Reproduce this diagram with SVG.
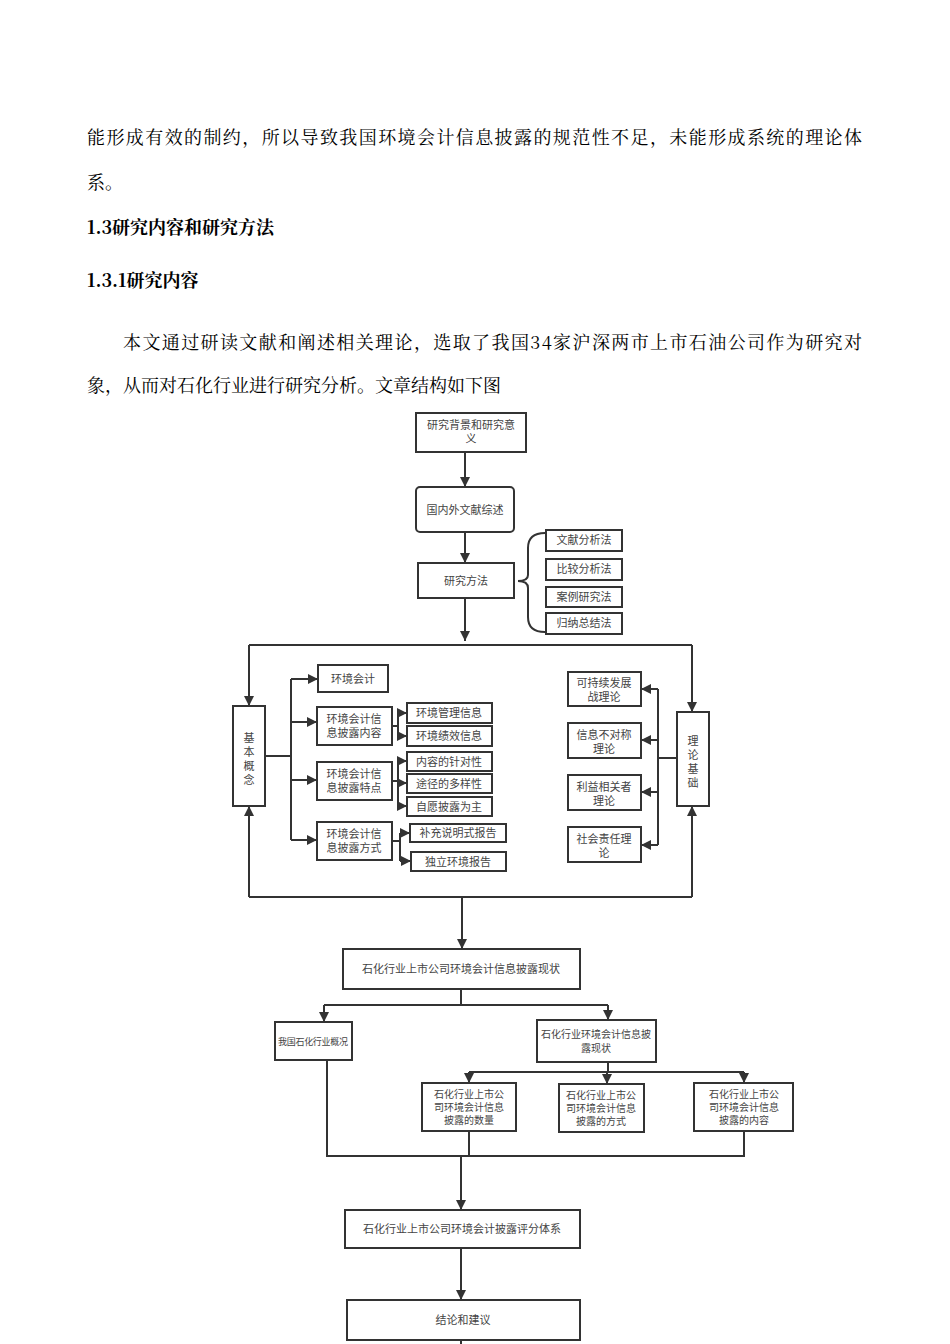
<svg xmlns="http://www.w3.org/2000/svg" width="950" height="1344" viewBox="0 0 950 1344">
<defs>
<marker id="a" viewBox="0 0 10 10" refX="10" refY="5" markerWidth="10" markerHeight="10" orient="auto" markerUnits="userSpaceOnUse"><path d="M0,0 L10,5 L0,10 z" fill="#333"/></marker>
</defs>
<style>
.p{font-family:"Noto Serif CJK SC","Noto Sans CJK SC","Liberation Serif",serif;font-size:18px;fill:#000}
.h{font-weight:bold}
.b{fill:#fff;stroke:#333;stroke-width:2}
.t{font-family:"Noto Sans CJK SC","Liberation Sans",sans-serif;font-size:11px;fill:#444;text-anchor:middle}
.s{font-size:10px}
.c{fill:none;stroke:#333;stroke-width:2}
.ca{fill:none;stroke:#333;stroke-width:2;marker-end:url(#a)}
</style>
<rect width="950" height="1344" fill="#fff"/>
<text class="p" x="87" y="144" textLength="775">能形成有效的制约，所以导致我国环境会计信息披露的规范性不足，未能形成系统的理论体</text>
<text class="p" x="87" y="189">系。</text>
<text class="p h" x="87" y="234">1.3研究内容和研究方法</text>
<text class="p h" x="87" y="287">1.3.1研究内容</text>
<text class="p" x="123" y="349" textLength="739">本文通过研读文献和阐述相关理论，选取了我国34家沪深两市上市石油公司作为研究对</text>
<text class="p" x="87" y="392">象，从而对石化行业进行研究分析。文章结构如下图</text>

<g id="connectors">
<path class="ca" d="M465,452 V487"/>
<path class="ca" d="M465,532 V563"/>
<path class="c" d="M545,533 Q528,533 528,548 V575 Q528,581 518,581 Q528,581 528,588 V617 Q528,632 545,632"/>
<path class="ca" d="M465,598 V641"/>
<path class="c" d="M249,645 H692"/>
<path class="ca" d="M249,645 V706"/>
<path class="ca" d="M692,645 V712"/>
<path class="c" d="M249,897 H692"/>
<path class="ca" d="M249,897 V806"/>
<path class="ca" d="M692,897 V806"/>
<path class="ca" d="M462,897 V949"/>
<path class="c" d="M265,756 H291 M291,679 V840"/>
<path class="ca" d="M291,679 H318"/>
<path class="ca" d="M291,722 H317"/>
<path class="ca" d="M291,780 H317"/>
<path class="ca" d="M291,840 H317"/>
<path class="c" d="M392,726 H398 M398,713 V736"/>
<path class="ca" d="M398,713 H407"/>
<path class="ca" d="M398,736 H407"/>
<path class="c" d="M392,781 H398 M398,761 V806"/>
<path class="ca" d="M398,761 H407"/>
<path class="ca" d="M398,783 H407"/>
<path class="ca" d="M398,806 H407"/>
<path class="c" d="M392,841 H400 M400,833 V861"/>
<path class="ca" d="M400,833 H410"/>
<path class="ca" d="M400,861 H411"/>
<path class="c" d="M677,758 H658 M658,689 V845"/>
<path class="ca" d="M658,689 H641"/>
<path class="ca" d="M658,740 H641"/>
<path class="ca" d="M658,792 H641"/>
<path class="ca" d="M658,845 H641"/>
<path class="c" d="M461,989 V1005 M324,1005 H608"/>
<path class="ca" d="M324,1005 V1022"/>
<path class="ca" d="M608,1005 V1020"/>
<path class="c" d="M608,1062 V1072 M469,1072 H744"/>
<path class="ca" d="M469,1072 V1083"/>
<path class="ca" d="M607,1072 V1084"/>
<path class="ca" d="M744,1072 V1083"/>
<path class="c" d="M327,1060 V1156 H744 V1131 M469,1131 V1156"/>
<path class="ca" d="M461,1156 V1210"/>
<path class="ca" d="M461,1248 V1300"/>
<path class="c" d="M461,1340 V1344"/>
</g>

<g id="n1"><rect class="b" x="416" y="413" width="110" height="39"/><text class="t" x="471" y="429">研究背景和研究意</text><text class="t" x="471" y="443">义</text></g>
<g id="n2"><rect class="b" x="416" y="487" width="98" height="45" rx="4"/><text class="t" x="465" y="514">国内外文献综述</text></g>
<g id="n3"><rect class="b" x="418" y="563" width="96" height="35"/><text class="t" x="466" y="585">研究方法</text></g>
<g id="m1"><rect class="b" x="546" y="530" width="76" height="21"/><text class="t" x="584" y="544">文献分析法</text></g>
<g id="m2"><rect class="b" x="546" y="559" width="76" height="21"/><text class="t" x="584" y="573">比较分析法</text></g>
<g id="m3"><rect class="b" x="546" y="587" width="76" height="20"/><text class="t" x="584" y="601">案例研究法</text></g>
<g id="m4"><rect class="b" x="546" y="613" width="76" height="21"/><text class="t" x="584" y="627">归纳总结法</text></g>

<g id="jbgn"><rect class="b" x="233" y="706" width="32" height="100"/><text class="t" x="249" y="742">基</text><text class="t" x="249" y="756">本</text><text class="t" x="249" y="770">概</text><text class="t" x="249" y="784">念</text></g>
<g id="lljc"><rect class="b" x="677" y="712" width="32" height="94"/><text class="t" x="693" y="745">理</text><text class="t" x="693" y="759">论</text><text class="t" x="693" y="773">基</text><text class="t" x="693" y="787">础</text></g>

<g id="k1"><rect class="b" x="318" y="665" width="70" height="27"/><text class="t" x="353" y="683">环境会计</text></g>
<g id="k2"><rect class="b" x="317" y="707" width="75" height="38"/><text class="t" x="354" y="723">环境会计信</text><text class="t" x="354" y="737">息披露内容</text></g>
<g id="k3"><rect class="b" x="317" y="762" width="75" height="38"/><text class="t" x="354" y="778">环境会计信</text><text class="t" x="354" y="792">息披露特点</text></g>
<g id="k4"><rect class="b" x="317" y="822" width="75" height="38"/><text class="t" x="354" y="838">环境会计信</text><text class="t" x="354" y="852">息披露方式</text></g>
<g id="s1"><rect class="b" x="407" y="703" width="85" height="20"/><text class="t" x="449" y="717">环境管理信息</text></g>
<g id="s2"><rect class="b" x="407" y="726" width="85" height="20"/><text class="t" x="449" y="740">环境绩效信息</text></g>
<g id="s3"><rect class="b" x="407" y="752" width="85" height="19"/><text class="t" x="449" y="766">内容的针对性</text></g>
<g id="s4"><rect class="b" x="407" y="774" width="85" height="19"/><text class="t" x="449" y="788">途径的多样性</text></g>
<g id="s5"><rect class="b" x="407" y="797" width="85" height="19"/><text class="t" x="449" y="811">自愿披露为主</text></g>
<g id="s6"><rect class="b" x="410" y="824" width="96" height="18"/><text class="t" x="458" y="837">补充说明式报告</text></g>
<g id="s7"><rect class="b" x="411" y="852" width="95" height="19"/><text class="t" x="458" y="866">独立环境报告</text></g>

<g id="r1"><rect class="b" x="568" y="672" width="73" height="34"/><text class="t" x="604" y="687">可持续发展</text><text class="t" x="604" y="701">战理论</text></g>
<g id="r2"><rect class="b" x="568" y="723" width="73" height="35"/><text class="t" x="604" y="739">信息不对称</text><text class="t" x="604" y="753">理论</text></g>
<g id="r3"><rect class="b" x="568" y="775" width="73" height="35"/><text class="t" x="604" y="791">利益相关者</text><text class="t" x="604" y="805">理论</text></g>
<g id="r4"><rect class="b" x="568" y="827" width="73" height="35"/><text class="t" x="604" y="843">社会责任理</text><text class="t" x="604" y="857">论</text></g>

<g id="x1"><rect class="b" x="343" y="949" width="237" height="40"/><text class="t" x="461" y="973">石化行业上市公司环境会计信息披露现状</text></g>
<g id="x2"><rect class="b" x="275" y="1022" width="77" height="38"/><text class="t" style="font-size:9px" x="313" y="1045" textLength="70">我国石化行业概况</text></g>
<g id="x3"><rect class="b" x="537" y="1020" width="119" height="42"/><text class="t s" x="596" y="1038">石化行业环境会计信息披</text><text class="t s" x="596" y="1052">露现状</text></g>
<g id="y1"><rect class="b" x="422" y="1083" width="94" height="48"/><text class="t s" x="469" y="1098">石化行业上市公</text><text class="t s" x="469" y="1111">司环境会计信息</text><text class="t s" x="469" y="1124">披露的数量</text></g>
<g id="y2"><rect class="b" x="559" y="1084" width="85" height="48"/><text class="t s" x="601" y="1099">石化行业上市公</text><text class="t s" x="601" y="1112">司环境会计信息</text><text class="t s" x="601" y="1125">披露的方式</text></g>
<g id="y3"><rect class="b" x="694" y="1083" width="99" height="48"/><text class="t s" x="744" y="1098">石化行业上市公</text><text class="t s" x="744" y="1111">司环境会计信息</text><text class="t s" x="744" y="1124">披露的内容</text></g>
<g id="z1"><rect class="b" x="345" y="1210" width="235" height="38"/><text class="t" x="462" y="1233">石化行业上市公司环境会计披露评分体系</text></g>
<g id="z2"><rect class="b" x="347" y="1300" width="233" height="40"/><text class="t" x="463" y="1324">结论和建议</text></g>
</svg>
